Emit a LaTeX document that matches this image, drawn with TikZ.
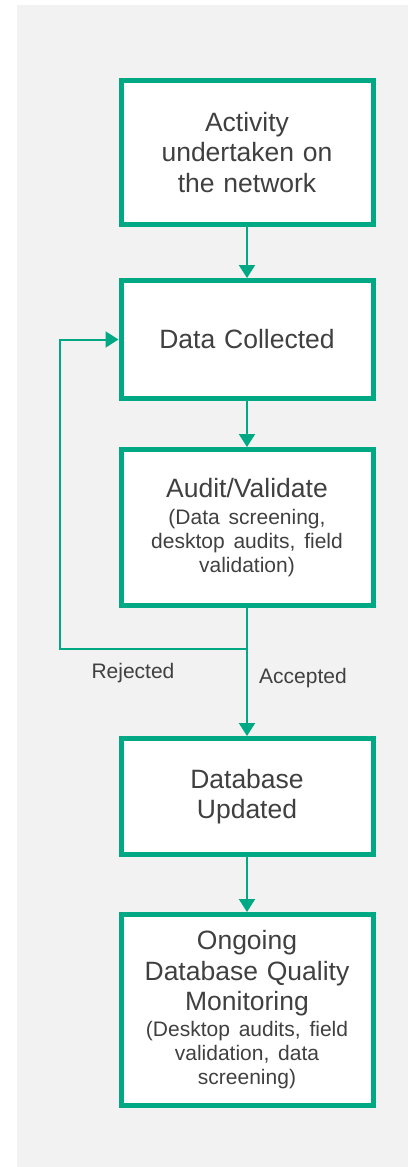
\documentclass[tikz,border=0pt]{standalone}
\usepackage{fontspec}
\setmainfont{Liberation Sans}
\usetikzlibrary{arrows.meta,positioning}
\definecolor{DqGreen}{RGB}{0,169,131}
\definecolor{DqPanel}{RGB}{242,242,242}
\definecolor{DqText}{RGB}{64,64,64}
\newcommand{\dqmain}{\fontsize{26.5}{30.5}\selectfont}
\newcommand{\dqsub}{\fontsize{21}{24}\selectfont}
\tikzset{
  dq/box/.style={
    draw=DqGreen,
    line width=5pt,
    fill=white,
    align=center,
    text=DqText,
    text width=236pt,
    minimum width=252pt,
    inner sep=0pt,
    font=\dqmain
  },
  dq/arrow/.style={-{Triangle[length=13pt,width=16pt]}, line width=2pt, draw=DqGreen},
  dq/line/.style={line width=2pt, draw=DqGreen},
  dq/label/.style={font=\dqsub, text=DqText}
}

\begin{document}
\begin{tikzpicture}[x=1pt,y=-1pt]
  \useasboundingbox (0,0) rectangle (408,1167);
  \fill[DqPanel] (17,5) rectangle (408,1167);

  \node[dq/box,minimum height=144pt] (activity) at (247,152.5) {Activity\\undertaken on\\the network};
  \node[dq/box,minimum height=118pt] (collected) at (247,339.5) {Data Collected};
  \node[dq/box,minimum height=156pt] (audit) at (247,527.5)
    {Audit/Validate\par\vspace{3pt}\dqsub (Data screening,\\desktop audits, field\\validation)\par};
  \node[dq/box,minimum height=116pt] (dbupdated) at (247,796.5) {Database\\Updated};
  \node[dq/box,minimum height=191pt] (monitoring) at (247,1010)
    {Ongoing\\Database Quality\\Monitoring\par\vspace{2pt}\dqsub (Desktop audits, field\\validation, data\\screening)\par};

  \draw[dq/arrow] (activity) -- (collected);
  \draw[dq/arrow] (collected) -- (audit);
  \draw[dq/arrow] (audit) -- (dbupdated);
  \draw[dq/arrow] (dbupdated) -- (monitoring);

  % rejected items go back to collection
  \coordinate (split) at (247,649);
  \coordinate (loopcorner) at (60,649);
  \draw[dq/arrow] (split) -- (loopcorner) |- (collected.west);

  \node[dq/label] (rejected) at (133,673) {Rejected};
  \node[dq/label] (accepted) at (303,678) {Accepted};
\end{tikzpicture}
\end{document}
